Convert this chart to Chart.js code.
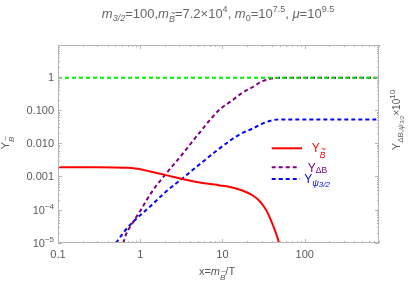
<!DOCTYPE html>
<html>
<head>
<meta charset="utf-8">
<script src="https://cdn.jsdelivr.net/npm/chart.js@4"></script>
<style>
  body { margin: 0; background: #fff; }
  canvas { display: block; }
</style>
</head>
<body>
<canvas id="chart" width="409" height="286" style="width:409px;height:286px"></canvas>
<script>
"use strict";

// data (x = m_B / T)
const redX = [0.1, 0.3, 0.5, 0.7, 1.0, 1.32, 2.0, 3.35, 5.3, 9.3, 12, 15, 19, 23.6, 28, 32, 36, 40, 44, 48.8, 55];
const redY = [0.0019, 0.0019, 0.00188, 0.00182, 0.00166, 0.00141, 0.00112, 0.00083, 0.00066, 0.00054, 0.00049, 0.000427, 0.000347, 0.000263, 0.000186, 0.000123, 0.000074, 0.00004, 0.000022, 0.00001, 0.0000035];

const purpleX = [0.62, 0.67, 0.83, 1.02, 1.35, 2.05, 3.13, 5.0, 7.95, 9.6, 13, 17, 23.6, 30, 37.6, 45, 60, 800];
const purpleY = [0.00001, 0.0000178, 0.0000447, 0.0001, 0.000316, 0.0012, 0.00417, 0.0178, 0.0708, 0.112, 0.19, 0.316, 0.5, 0.72, 0.87, 0.92, 0.93, 0.93];

const blueX = [0.506, 0.62, 0.79, 1.07, 1.39, 1.96, 3.28, 5.0, 7.95, 12.7, 16.6, 23.6, 30, 37.6, 45.6, 60, 800];
const blueY = [0.00001, 0.00002, 0.0000398, 0.0000794, 0.000141, 0.000316, 0.000891, 0.00209, 0.00525, 0.0126, 0.0191, 0.0282, 0.038, 0.0468, 0.0513, 0.052, 0.052];

const greenX = [0.1, 800];
const greenY = [0.93, 0.93];

const xMajor = [0.1, 1, 10, 100];
const xLabels = ["0.1", "1", "10", "100"];
const yMajor = [1e-5, 1e-4, 1e-3, 1e-2, 1e-1, 1];

const TEXT = "#5a5a5a";
const FRAME = "#b4b4b4";
const FONT = '"Liberation Sans", Arial, sans-serif';

const pts = (xs, ys) => xs.map((x, i) => ({ x: x, y: ys[i] }));

function font(size, italic) {
  return (italic ? "italic " : "") + size + "px " + FONT;
}

// parts: [text, size, dy, italic, tilde]
function rich(ctx, parts, x, y, align) {
  ctx.textAlign = "left";
  ctx.textBaseline = "alphabetic";
  let w = 0;
  parts.forEach((p) => {
    ctx.font = font(p[1], p[3]);
    w += ctx.measureText(p[0]).width;
  });
  let cx = align === "center" ? x - w / 2 : align === "right" ? x - w : x;
  parts.forEach((p) => {
    ctx.font = font(p[1], p[3]);
    const pw = ctx.measureText(p[0]).width;
    ctx.fillText(p[0], cx, y + p[2]);
    if (p[4]) {
      ctx.font = font(p[1], false);
      ctx.textAlign = "center";
      ctx.fillText("~", cx + pw / 2 + 1, y + p[2] - p[1] * 0.72);
      ctx.textAlign = "left";
    }
    cx += pw;
  });
}

const decor = {
  id: "decor",
  afterDatasetsDraw(chart) {
    const ctx = chart.ctx;
    const a = chart.chartArea;
    const xs = chart.scales.x;
    const ys = chart.scales.y;
    ctx.save();

    // frame
    ctx.strokeStyle = FRAME;
    ctx.lineWidth = 1;
    ctx.strokeRect(a.left + 0.5, a.top + 0.5, a.right - a.left - 1, a.bottom - a.top - 1);

    // ticks, inward on all sides
    ctx.beginPath();
    for (let d = -1; d <= 2; d++) {
      for (let k = 1; k <= 9; k++) {
        const v = k * Math.pow(10, d);
        if (v < xs.min || v > xs.max) continue;
        const px = Math.round(xs.getPixelForValue(v)) + 0.5;
        const len = k === 1 ? 4 : 2;
        ctx.moveTo(px, a.bottom);
        ctx.lineTo(px, a.bottom - len);
        ctx.moveTo(px, a.top);
        ctx.lineTo(px, a.top + len);
      }
    }
    for (let d = -5; d <= 0; d++) {
      for (let k = 1; k <= 9; k++) {
        const v = k * Math.pow(10, d);
        if (v < ys.min || v > ys.max) continue;
        const py = Math.round(ys.getPixelForValue(v)) + 0.5;
        const len = k === 1 ? 4 : 2;
        ctx.moveTo(a.left, py);
        ctx.lineTo(a.left + len, py);
        ctx.moveTo(a.right, py);
        ctx.lineTo(a.right - len, py);
      }
    }
    ctx.stroke();

    ctx.fillStyle = TEXT;
    // x tick labels
    xMajor.forEach((v, i) => {
      rich(ctx, [[xLabels[i], 11, 0]], xs.getPixelForValue(v), a.bottom + 15, "center");
    });
    // y tick labels
    const yl = [
      [["10", 11, 0], ["\u22125", 8, -5]],
      [["10", 11, 0], ["\u22124", 8, -5]],
      [["0.001", 11, 0]],
      [["0.010", 11, 0]],
      [["0.100", 11, 0]],
      [["1", 11, 0]],
    ];
    yMajor.forEach((v, i) => {
      rich(ctx, yl[i], a.left - 4, ys.getPixelForValue(v) + 4, "right");
    });

    // title
    ctx.fillStyle = "#666";
    rich(ctx, [
      ["m", 13, 0, true], ["3/2", 9, 3, true], ["=100,", 13, 0],
      ["m", 13, 0, true], ["B", 9, 4, true, true], ["=7.2\u00d710", 13, 0], ["4", 9, -6],
      [", ", 13, 0], ["m", 13, 0, true], ["0", 9, 3], ["=10", 13, 0], ["7.5", 9, -6],
      [", ", 13, 0], ["\u03bc", 13, 0, true], ["=10", 13, 0], ["9.5", 9, -6],
    ], 218, 18, "center");
    ctx.fillStyle = TEXT;

    // x axis label
    rich(ctx, [["x=", 11, 0], ["m", 11, 0, true], ["B", 8, 5, true, true], ["/T", 11, 0]], 217, 275, "center");

    // left axis label
    ctx.save();
    ctx.translate(9, 143);
    ctx.rotate(-Math.PI / 2);
    rich(ctx, [["Y", 11, 0], ["B", 8, 5, true, true]], 0, 0, "center");
    ctx.restore();

    // right axis label
    ctx.save();
    ctx.translate(400, 120);
    ctx.rotate(-Math.PI / 2);
    rich(ctx, [["Y", 11, 0], ["\u0394B,", 8, 3], ["\u03c8", 8, 3, true], ["3/2", 6, 4, true], ["\u00d710", 10, 0], ["10", 8, -5]], 0, 0, "center");
    ctx.restore();

    // legend
    const rows = [
      { color: "#ff0000", dash: [], y: 148.3, x1: 302, tx: 311.7, ty: 152, parts: [["Y", 12, 0], ["B", 8.5, 6, true, true]] },
      { color: "#800080", dash: [4, 3], y: 167.3, x1: 299, tx: 307.7, ty: 171.6, parts: [["Y", 12, 0], ["\u0394B", 8.5, 1.5]] },
      { color: "#0000ff", dash: [4, 3], y: 179, x1: 300, tx: 304.3, ty: 183.3, parts: [["Y", 12, 0], ["\u03c8", 9, 3, true], ["3/2", 8, 3.5, true]] },
    ];
    rows.forEach((r) => {
      ctx.strokeStyle = r.color;
      ctx.lineWidth = 2;
      ctx.setLineDash(r.dash);
      ctx.beginPath();
      ctx.moveTo(271.7, r.y);
      ctx.lineTo(r.x1, r.y);
      ctx.stroke();
      ctx.setLineDash([]);
      ctx.fillStyle = r.color;
      rich(ctx, r.parts, r.tx, r.ty, "left");
    });

    ctx.restore();
  },
};

const line = (label, xs, ys, color, dash, order) => ({
  label: label,
  data: pts(xs, ys),
  borderColor: color,
  borderWidth: 2,
  borderDash: dash,
  pointRadius: 0,
  fill: false,
  cubicInterpolationMode: "monotone",
  order: order,
});

new Chart(document.getElementById("chart"), {
  type: "line",
  data: {
    datasets: [
      line("green", greenX, greenY, "#00ee00", [4, 3], 0),
      line("Y_B", redX, redY, "#ff0000", [], 1),
      line("Y_dB", purpleX, purpleY, "#800080", [4, 3], 2),
      line("Y_psi", blueX, blueY, "#0000ff", [4, 3], 3),
    ],
  },
  options: {
    responsive: false,
    animation: false,
    layout: { padding: { left: 58, right: 30, top: 45, bottom: 43 } },
    scales: {
      x: { type: "logarithmic", min: 0.1, max: 800, display: false },
      y: { type: "logarithmic", min: 1e-5, max: 9, display: false },
    },
    plugins: { legend: { display: false }, tooltip: { enabled: false } },
  },
  plugins: [decor],
});
</script>
</body>
</html>
